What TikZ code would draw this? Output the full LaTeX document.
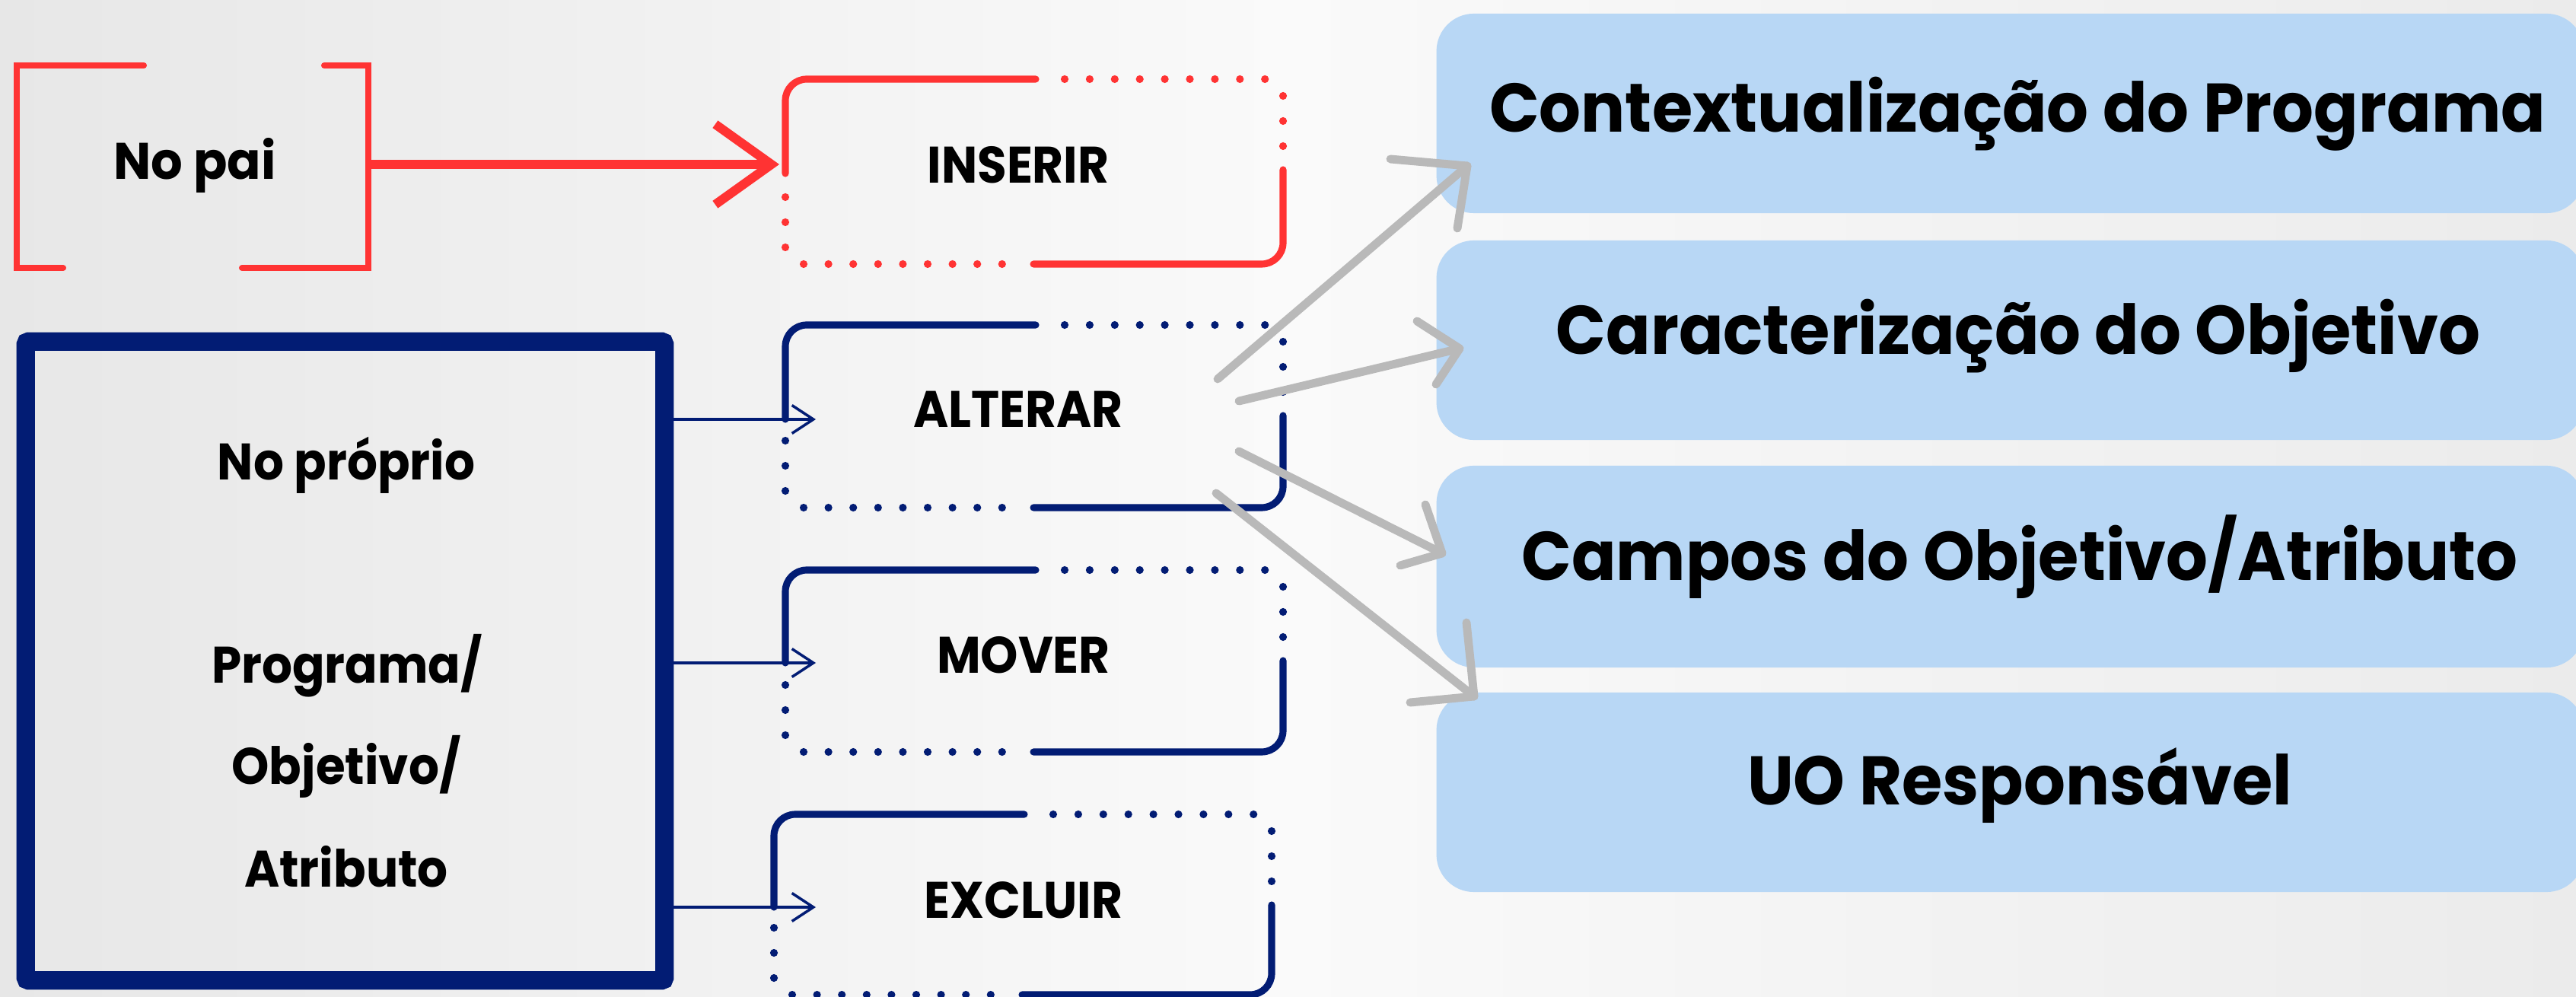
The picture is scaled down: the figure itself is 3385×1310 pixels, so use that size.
\documentclass[tikz,border=0pt]{standalone}
\usepackage{fontspec}
\newfontfamily\popb{Poppins}[UprightFont={* Bold}]
\usetikzlibrary{arrows.meta,calc}
\definecolor{redc}{HTML}{FF3333}
\definecolor{navy}{HTML}{021C74}
\definecolor{lblue}{HTML}{B8D7F5}
\definecolor{grayarr}{HTML}{B9B9B9}
\definecolor{bgL}{HTML}{E7E7E7}
\definecolor{bgM}{HTML}{FAFAFA}
\definecolor{bgR}{HTML}{EBEBEB}
\newcommand\sq[1]{\scalebox{0.93}[1]{#1}}
\newcommand\sqb[1]{\scalebox{0.955}[1]{#1}}
\tikzset{
  solidl/.style={line width=2.6pt, line cap=round, rounded corners=8pt},
  smalltext/.style={font=\popb\fontsize{19.2}{22}\selectfont, anchor=base, inner sep=0pt},
  bigtext/.style={font=\popb\fontsize{25.7}{30}\selectfont, anchor=base, inner sep=0pt},
  bluebox/.style={fill=lblue, rounded corners=14pt, inner sep=0pt, minimum width=15.07cm},
  sketch/.style={grayarr, line width=3.1pt, line cap=round, line join=round},
  navyarrow/.style={navy, line width=1pt, -{Straight Barb[length=8pt,width=10.5pt]}},
}
% #1 name, #2 left, #3 top, #4 height, #5 colour, #6 y where left solid side ends
\newcommand\actbox[6]{%
  \node[draw=none, inner sep=0pt, minimum width=6.54cm, minimum height={#4*0.01cm}] (#1) at ({#2+327},{#3+#4/2}) {};
  \draw[solidl, #5] ({#2},{#6}) -- ({#2},{#3}) -- ({#2+329},{#3});
  \draw[solidl, #5] ({#2+654},{#3+119}) -- ({#2+654},{#3+#4}) -- ({#2+326},{#3+#4});
  \foreach \ii in {0,...,8} {
    \fill[#5] ({#2+367+\ii*32.9},{#3}) circle[radius=1.45pt];
    \fill[#5] ({#2+24+\ii*32.6},{#3+#4}) circle[radius=1.45pt];
  }
  \foreach \dd in {22,55,88} {
    \fill[#5] ({#2+654},{#3+\dd}) circle[radius=1.45pt];
    \fill[#5] ({#2},{#3+#4-\dd}) circle[radius=1.45pt];
  }
}
\begin{document}
\begin{tikzpicture}[x=0.01cm, y=-0.01cm]
\useasboundingbox (0,0) rectangle (3385,1310);
\shade[left color=bgL, right color=bgR, middle color=bgM] (0,0) rectangle (3385,1310);

% ---------- right blue boxes ----------
\node[bluebox, minimum height=2.62cm] (b1) at (2641.5,149) {};
\node[bluebox, minimum height=2.62cm] (b2) at (2641.5,447) {};
\node[bluebox, minimum height=2.65cm] (b3) at (2641.5,744.5) {};
\node[bluebox, minimum height=2.62cm] (b4) at (2641.5,1041) {};
\node[bigtext] (t1) at (2651,174) {\sqb{Contextualização do Programa}};
\node[bigtext] (t2) at (2652,466) {\sqb{Caracterização do Objetivo}};
\node[bigtext] (t3) at (2654,763) {\sqb{Campos do Objetivo/Atributo}};
\node[bigtext] (t4) at (2654,1057) {\sqb{UO Responsável}};

% ---------- "No pai" bracket ----------
\node[draw=none, inner sep=0pt, minimum width=4.62cm, minimum height=2.66cm] (npbox) at (253,219) {};
\draw[redc, line width=2.3pt, line cap=round] (189,86) -- (22,86) -- (22,352) -- (83,352);
\draw[redc, line width=2.3pt, line cap=round] (426,86) -- (484,86) -- (484,352) -- (318,352);
\node[smalltext] (nptext) at (256,236) {\scalebox{0.97}[1]{No pai}};

% ---------- "No próprio" box ----------
\node[draw=navy, line width=6.83pt, rounded corners=1pt, inner sep=0pt,
      minimum width=8.39cm, minimum height=8.39cm] (prop) at (453.5,868.5) {};
\node[smalltext] (pr1) at (455,631) {\sq{No próprio}};
\node[smalltext] (pr2) at (456,898) {\sq{Programa/}};
\node[smalltext] (pr3) at (455,1031) {\sq{Objetivo/}};
\node[smalltext] (pr4) at (455,1165) {\sq{Atributo}};

% ---------- action boxes ----------
\actbox{ins}{1032}{104}{243}{redc}{228}
\actbox{alt}{1032}{427}{240}{navy}{551}
\actbox{mov}{1032}{749}{239}{navy}{871}
\actbox{exc}{1017}{1070}{237}{navy}{1192}
\node[smalltext] (insT) at (1338,241) {\sq{INSERIR}};
\node[smalltext] (altT) at (1338,562) {\sq{ALTERAR}};
\node[smalltext] (movT) at (1345,885) {\sq{MOVER}};
\node[smalltext] (excT) at (1345,1206) {\sq{EXCLUIR}};

% ---------- connectors ----------
\coordinate (insA) at (1024,216);
\coordinate (altA) at (1072,551);
\coordinate (movA) at (1072,871);
\coordinate (excA) at (1072,1192);
\draw[redc, line width=3.4pt, -{Straight Barb[length=21pt,width=30pt]}] (npbox.east |- insA) -- (insA);
\draw[navyarrow] (prop.east |- altA) -- (altA);
\draw[navyarrow] (prop.east |- movA) -- (movA);
\draw[navyarrow] (prop.east |- excA) -- (excA);

% ---------- gray sketch arrows ----------
\coordinate (g1s) at (1600,498); \coordinate (g1e) at (1928,218);
\coordinate (g1a) at (1827,209); \coordinate (g1b) at (1915,300);
\coordinate (g2s) at (1628,527); \coordinate (g2e) at (1918,458);
\coordinate (g2a) at (1862,422); \coordinate (g2b) at (1887,505);
\coordinate (g3s) at (1628,593); \coordinate (g3e) at (1895,727);
\coordinate (g3a) at (1873,663); \coordinate (g3b) at (1840,743);
\coordinate (g4s) at (1598,648); \coordinate (g4e) at (1937,915);
\coordinate (g4a) at (1927,818); \coordinate (g4b) at (1853,923);
\foreach \k in {1,2,3,4} {
  \draw[sketch] (g\k s) -- (g\k e);
  \draw[sketch] (g\k a) -- (g\k e) -- (g\k b);
}
\end{tikzpicture}
\end{document}
